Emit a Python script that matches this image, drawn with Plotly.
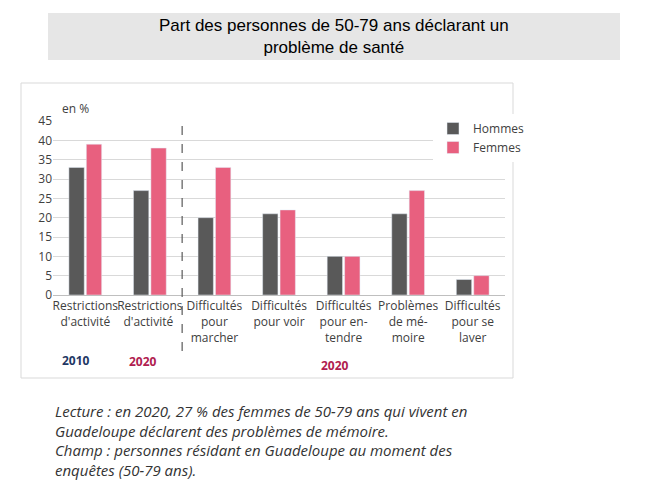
import plotly.graph_objects as go

categories = ["Restrictions<br>d'activité", "Restrictions<br>d'activité ", "Difficultés<br>pour<br>marcher",
              "Difficultés<br>pour voir", "Difficultés<br>pour en-<br>tendre", "Problèmes<br>de mé-<br>moire",
              "Difficultés<br>pour se<br>laver"]
hommes = [33, 27, 20, 21, 10, 21, 4]
femmes = [39, 38, 33, 22, 10, 27, 5]
y_ticks = [0, 5, 10, 15, 20, 25, 30, 35, 40, 45]

# pixel -> paper helpers (plot area: x 45..497, y 113..287)
def px(x):
    return (x - 45) / 452

def py(y):
    return (287 - y) / 174

fig = go.Figure()
fig.add_trace(go.Bar(x=categories, y=hommes, name='Hommes', marker_color='#595959'))
fig.add_trace(go.Bar(x=categories, y=femmes, name='Femmes', marker_color='#e8607f'))

fig.update_layout(
    width=650, height=485, paper_bgcolor='white', plot_bgcolor='white',
    margin=dict(l=45, r=153, t=113, b=198),
    barmode='group', bargap=0.46, bargroupgap=0.12,
    font=dict(family='Open Sans', size=12, color='#404040'),
    legend=dict(x=px(425), y=py(106), xanchor='left', yanchor='top', font=dict(size=12),
                itemwidth=30, tracegroupgap=8),
    showlegend=True,
)
fig.update_xaxes(tickfont=dict(size=12), tickangle=0, showline=True, linecolor='#bfbfbf', ticks='')
fig.update_yaxes(range=[0, 45], tickvals=y_ticks, gridcolor='#d9d9d9', tickfont=dict(size=12),
                 zeroline=False, ticks='')

# boxes and separator
fig.add_shape(type='rect', xref='paper', yref='paper', x0=px(40), x1=px(612), y0=py(52), y1=py(5),
              fillcolor='#e6e6e6', line=dict(width=0), layer='below')
fig.add_shape(type='rect', xref='paper', yref='paper', x0=px(13), x1=px(505), y0=py(370), y1=py(75),
              line=dict(color='#d9d9d9', width=1))
fig.add_shape(type='line', xref='x', yref='paper', x0=1.5, x1=1.5, y0=py(343), y1=1,
              line=dict(color='#595959', width=1.2, dash='dash'))

ann = [
    (px(326), py(28), "Part des personnes de 50-79 ans déclarant un<br>problème de santé",
     dict(family='Liberation Sans', size=17, color='black'), 'center'),
    (px(52), py(100), "en %", dict(size=12, color='#404040'), 'left'),
    (px(68), py(352), "<b>2010</b>", dict(size=12, color='#1f3864'), 'center'),
    (px(135), py(353), "<b>2020</b>", dict(size=12, color='#b0204f'), 'center'),
    (px(327), py(357), "<b>2020</b>", dict(size=12, color='#b0204f'), 'center'),
    (px(45), py(432), "<i>Lecture : en 2020, 27 % des femmes de 50-79 ans qui vivent en<br>"
     "Guadeloupe déclarent des problèmes de mémoire.<br>"
     "Champ : personnes résidant en Guadeloupe au moment des<br>enquêtes (50-79 ans).</i>",
     dict(family='Open Sans', size=15, color='#333333'), 'left'),
]
for x, y, t, f, al in ann:
    fig.add_annotation(x=x, y=y, xref='paper', yref='paper', text=t, showarrow=False, font=f,
                       xanchor=al, yanchor='middle', align=al)

fig.write_html("out.html")
